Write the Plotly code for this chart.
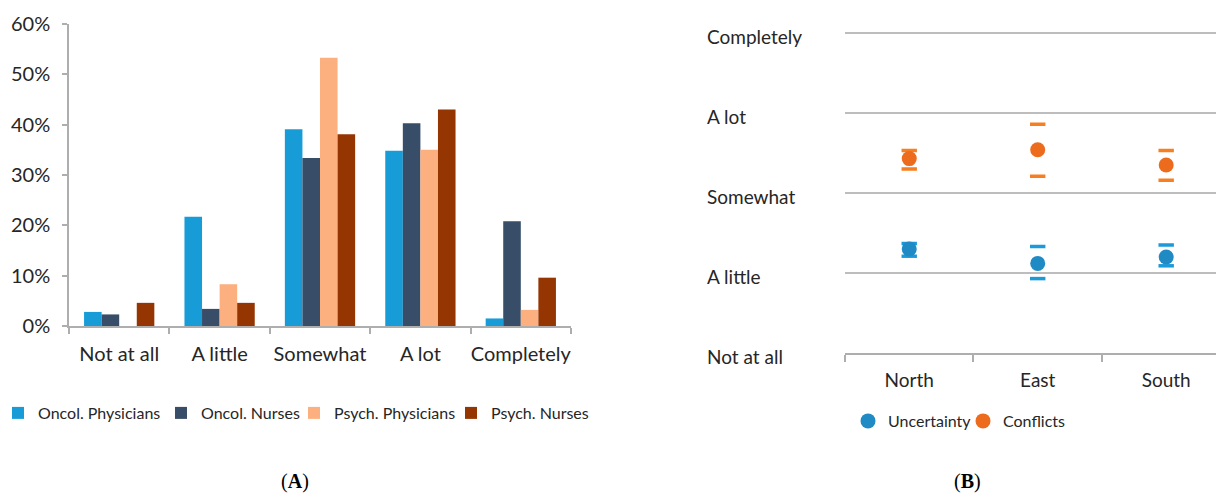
import plotly.graph_objects as go

# ---- Panel A data ----
levels = ["Not at all", "A little", "Somewhat", "A lot", "Completely"]
oncol_physicians = [0.028, 0.217, 0.391, 0.348, 0.015]
oncol_nurses = [0.023, 0.034, 0.334, 0.403, 0.208]
psych_physicians = [0.0, 0.083, 0.533, 0.350, 0.032]
psych_nurses = [0.046, 0.046, 0.381, 0.430, 0.096]

# ---- Panel B data ----
regions = ["North", "East", "South"]
scale_labels = ["Not at all", "A little", "Somewhat", "A lot", "Completely"]
scale_values = [1, 2, 3, 4, 5]
uncert_mean = [2.30, 2.12, 2.20]
uncert_upper = [2.37, 2.33, 2.35]
uncert_lower = [2.21, 1.93, 2.09]
conf_mean = [3.43, 3.54, 3.35]
conf_upper = [3.53, 3.86, 3.53]
conf_lower = [3.30, 3.21, 3.16]

FONT = "Lato, Carlito, 'Open Sans', sans-serif"
TXT = "#262626"
AX = "#AEAEAE"

# The page body has an 8px default margin, so the figure is drawn 8px smaller
OFF = 8
W, H = 1224 - OFF, 493 - OFF


def fx(x):
    return (x - OFF) / W


def fy(y):
    return 1 - (y - OFF) / H


fig = go.Figure()

bar_series = [
    ("Oncol. Physicians", oncol_physicians, "#189CD8", 118),
    ("Oncol. Nurses", oncol_nurses, "#374D68", 88),
    ("Psych. Physicians", psych_physicians, "#FDB07F", 112),
    ("Psych. Nurses", psych_nurses, "#953602", 100),
]
for name, vals, col, lw in bar_series:
    fig.add_trace(go.Bar(x=levels, y=vals, name=name, marker=dict(color=col, line=dict(width=0)),
                         xaxis="x", yaxis="y", legend="legend", legendwidth=lw))

# Panel B
blue_dot, blue_cap = "#1F8AC4", "#1B9ADA"
orng_dot, orng_cap = "#EC6B1C", "#F77E21"
for name, mean, up, lo, dc, cc in [
    ("Uncertainty", uncert_mean, uncert_upper, uncert_lower, blue_dot, blue_cap),
    ("Conflicts", conf_mean, conf_upper, conf_lower, orng_dot, orng_cap),
]:
    fig.add_trace(go.Scatter(x=regions + regions, y=up + lo, mode="markers", showlegend=False,
                             marker=dict(symbol="line-ew", size=11, line=dict(width=3.5, color=cc)),
                             xaxis="x2", yaxis="y2", hoverinfo="skip"))
    fig.add_trace(go.Scatter(x=regions, y=mean, mode="markers", name=name,
                             marker=dict(symbol="circle", size=15, color=dc),
                             xaxis="x2", yaxis="y2", legend="legend2", legendwidth=70))

annotations = []
for lab, v in zip(scale_labels, scale_values):
    annotations.append(dict(text=lab, x=fx(705), xref="paper", xanchor="left",
                            y=v, yref="y2", yanchor="middle", yshift=-3, showarrow=False,
                            font=dict(family=FONT, size=19, color=TXT)))
for lab, xp in [("A", 295), ("B", 967)]:
    annotations.append(dict(text="(<b>%s</b>)" % lab, x=fx(xp), y=fy(481), xref="paper", yref="paper",
                            xanchor="center", yanchor="middle", showarrow=False,
                            font=dict(family="'Liberation Serif', 'Times New Roman', serif", size=20, color="#000")))

ytop2 = 5.02
fig.update_layout(
    width=W, height=H,
    margin=dict(l=0, r=0, t=0, b=0, autoexpand=False),
    paper_bgcolor="white", plot_bgcolor="white",
    font=dict(family=FONT, color=TXT),
    barmode="group", bargap=0.3, bargroupgap=0,
    xaxis=dict(domain=[fx(69), fx(571)], showline=True, linecolor=AX, linewidth=1.5,
               ticks="outside", tickson="boundaries", ticklen=6, tickcolor=AX, tickwidth=1.5,
               tickangle=0, automargin=False, ticklabelstandoff=9,
               tickfont=dict(size=20, color=TXT), showgrid=False),
    yaxis=dict(domain=[fy(326), fy(24)], range=[0, 0.6], dtick=0.1, tickformat=".0%",
               showline=True, linecolor=AX, linewidth=1.5, ticks="outside", ticklen=5, tickcolor=AX,
               tickwidth=1.5, showgrid=False, zeroline=False, tickfont=dict(size=20, color=TXT),
               ticklabelstandoff=8, automargin=False),
    xaxis2=dict(domain=[fx(845), 1.0], range=[-0.5, 2.45], showline=True, linecolor=AX, linewidth=1.5,
                ticks="outside", tickson="boundaries", ticklen=7, tickcolor=AX, tickwidth=1.5,
                tickangle=0, automargin=False, ticklabelstandoff=9,
                tickfont=dict(size=19, color=TXT), showgrid=False, anchor="y2"),
    yaxis2=dict(domain=[fy(353), fy(33 - 0.02 * 80)], range=[1, ytop2], tickvals=scale_values,
                showticklabels=False, showgrid=True, gridcolor="#BDBDBD", gridwidth=1.5,
                zeroline=False, anchor="x2", automargin=False),
    legend=dict(orientation="h", x=(-2 - OFF) / W, y=fy(413), xanchor="left", yanchor="middle",
                font=dict(size=16, color=TXT), itemwidth=30, bgcolor="rgba(0,0,0,0)"),
    legend2=dict(orientation="h", x=fx(848), y=fy(421), xanchor="left", yanchor="middle",
                 font=dict(size=16, color=TXT), itemwidth=30, bgcolor="rgba(0,0,0,0)"),
    annotations=annotations,
)

fig.write_html("out.html")
